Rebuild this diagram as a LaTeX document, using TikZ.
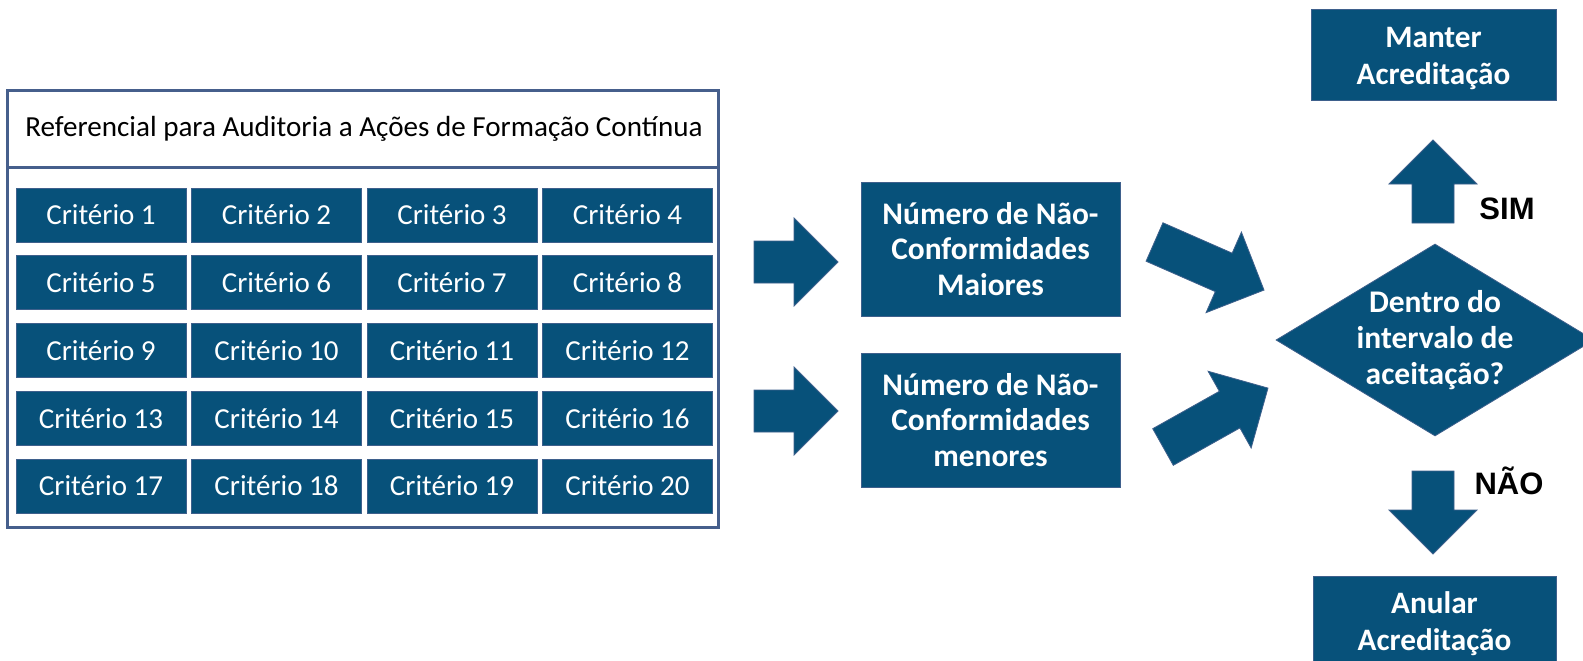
\documentclass[tikz,border=0pt]{standalone}
\usepackage{fontspec}
\setmainfont{Carlito}
\newfontfamily\arialfont{Liberation Sans}
\usetikzlibrary{shapes.geometric}
\definecolor{navy}{RGB}{7,81,122}
\definecolor{edgeblue}{RGB}{62,96,140}
\definecolor{framecol}{RGB}{70,95,140}
\begin{document}
\begin{tikzpicture}[x=1pt,y=-1pt,
  crit/.style={draw=edgeblue, line width=1pt, fill=navy, text=white,
    minimum width=170pt, minimum height=54pt, inner sep=0pt,
    font=\fontsize{29}{34}\selectfont},
  bluebox/.style={draw=edgeblue, line width=1pt, fill=navy, text=white,
    inner sep=0pt, align=center, font=\bfseries\fontsize{31.4}{35.5}\selectfont},
  whitetext/.style={text=white, inner sep=0pt, align=center,
    font=\bfseries\fontsize{31.5}{36}\selectfont},
  blockarrow/.style={fill=navy, draw=edgeblue, line width=0.8pt, line join=miter},
  answer/.style={font=\arialfont\bfseries\fontsize{31}{36}\selectfont, text=black, inner sep=0pt}]

\useasboundingbox (0,0) rectangle (1583,661);
\clip (0,0) rectangle (1583,661);
\fill[white] (0,0) rectangle (1583,661);

% outer frame
\node[draw=framecol, line width=3pt, minimum width=710.5pt, minimum height=436pt, inner sep=0pt] (ref) at (362.75,309) {};
\draw[framecol, line width=3pt] (7.5,167) -- (718,167);
\node[inner sep=0pt, font=\fontsize{29.1}{34}\selectfont] (title) at (364,129) {Referencial para Auditoria a Ações de Formação Contínua};

% criteria
\foreach \n in {1,...,20}{
  \pgfmathtruncatemacro\col{mod(\n-1,4)}
  \pgfmathtruncatemacro\row{div(\n-1,4)}
  \node[crit] (c\n) at ({101+175.5*\col},{215+67.75*\row}) {Critério \n};
}

% count boxes
\node[bluebox, minimum width=259pt, minimum height=134pt] (maj) at (990.5,249) {Número de Não-\\Conformidades\\Maiores};
\node[bluebox, minimum width=259pt, minimum height=134pt] (min) at (990.5,420) {Número de Não-\\Conformidades\\menores};

% result boxes
\node[bluebox, minimum width=245pt, minimum height=90pt] (keep) at (1433.5,55) {};
\node[whitetext, font=\bfseries\fontsize{31.2}{37}\selectfont] (keept) at ([yshift=-4pt]keep.center) {Manter\\Acreditação};
\node[bluebox, minimum width=243pt, minimum height=90pt] (cancel) at (1434.5,621) {};
\node[whitetext, font=\bfseries\fontsize{31.2}{37}\selectfont] (cancelt) at ([yshift=-3pt]cancel.center) {Anular\\Acreditação};

% decision
\node[diamond, draw=edgeblue, line width=0.8pt, fill=navy, minimum width=318pt, minimum height=192pt, inner sep=0pt] (q) at (1435,340) {};
\node[whitetext] (qt) at (q.center) {Dentro do\\intervalo de\\aceitação?};

% block arrows
\newcommand\barrow[3]{%
  \draw[blockarrow, shift={#1}, rotate=#2]
    (0,-21) -- ({#3-44},-21) -- ({#3-44},-44) -- (#3,0) -- ({#3-44},44) -- ({#3-44},21) -- (0,21) -- cycle;}
\barrow{(754,262)}{0}{84}
\barrow{(754,411)}{0}{84}
\barrow{(1154.5,242)}{-23.7}{119.6}
\barrow{(1163,447)}{29.3}{120.4}
\barrow{(1433,223)}{90}{83}
\barrow{(1433,471)}{-90}{83}

\node[answer] (sim) at (1507,209) {SIM};
\node[answer] (nao) at (1509,481) {NÃO};
\end{tikzpicture}
\end{document}
